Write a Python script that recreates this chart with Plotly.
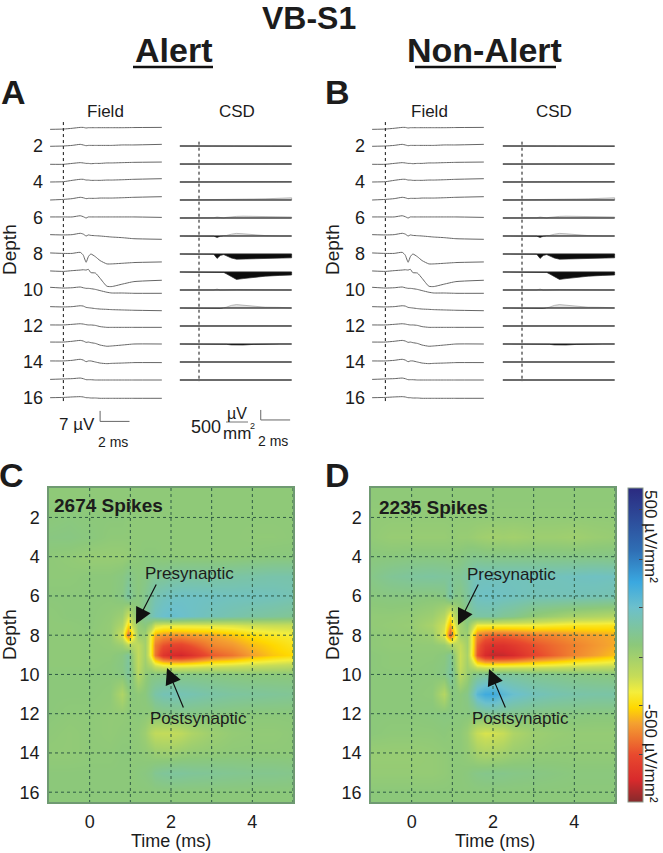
import plotly.graph_objects as go

W, H = 663, 853

# ---------- data ----------
depth_ticks = [2, 4, 6, 8, 10, 12, 14, 16]
time_ticks = [0, 2, 4]
grid_times = [0, 1, 2, 3, 4, 5]

field_depths = list(range(1, 17))
field_t_ms = [-0.9, 0, 0.6, 1.15, 1.35, 1.55, 1.7, 1.87, 2.18, 2.5, 2.96, 3.3, 4, 4.8, 6.7]
field_uv = [
    [-.9, -.7, -.2, .4, .4, 0, .2, .2, .2, .2, .2, .2, .2, .3, .4],
    [-.2, 0, .4, 1.1, .7, .2, .4, .4, .4, .4, .4, .4, .7, .7, 1.1],
    [-.2, -.2, .4, .9, .7, .4, .4, .2, .4, .4, .7, .7, .9, 1.1, 1.3],
    [0, .2, 1.1, 1.8, 1.8, 1.3, 1.3, 1.1, 1.1, 1.1, 1.3, 1.3, 1.5, 1.8, 2.2],
    [0, .4, .9, 1.8, 1.5, .9, 1.1, 1.1, 1.1, 1.3, 1.3, 1.3, 1.5, 1.8, 2.2],
    [.7, .7, .7, 1.5, .9, 0, .7, .7, .7, .7, .7, .7, .7, .7, .4],
    [.9, .7, .9, 1.8, 1.3, 0, .7, .4, .2, 0, -.4, -.7, -1.1, -1.8, -2.2],
    [.7, .4, .4, 1.1, -.7, -5.5, -1.8, 0, -1.8, -4.4, -6.6, -6.6, -6.2, -5.7, -5.3],
    [.7, .4, .9, 1.3, 1.5, 1.3, 1.8, -.4, -.7, -4.2, -9.5, -9.7, -8.1, -6.4, -5.5],
    [1.8, 1.3, 1.5, 2, 1.5, 1.1, 1.1, .9, .4, -.4, -1.5, -2, -2, -2.2, -2.2],
    [.9, .7, .9, 1.5, 1.3, .4, .2, 0, -.4, -.7, -.9, -1.1, -1.3, -1.5, -1.8],
    [.7, .7, 1.1, 1.5, 1.3, .9, .7, .7, .4, -.4, -.9, -.9, -.9, -.9, -.9],
    [1.3, 1.3, 1.8, 2.4, 2, 1.1, 1.3, .9, .4, -.7, -1.5, -1.3, -.7, 0, 0],
    [.7, .7, 1.1, 1.8, 1.3, .2, .7, .7, 0, -.7, -1.1, -.9, -.7, -.4, -.4],
    [.4, .7, .9, 1.3, .9, .2, .2, .2, 0, 0, 0, 0, 0, 0, 0],
    [.2, .4, .7, .9, .7, .2, .2, 0, 0, -.2, -.2, -.2, -.2, -.2, -.2],
]

csd_depths = list(range(2, 16))
csd_t_ms = [-1.3, 0, 1.0, 1.23, 1.45, 1.68, 1.86, 2.2, 2.55, 3, 3.7, 4.5, 5.5, 6.3]
csd_uv_mm2 = [
    [0, 0, 0, 0, 0, 0, 0, 0, 0, 0, -15, -20, 0, -10],
    [-5, 0, 0, 0, 0, 0, 0, 0, 0, 0, 0, 0, 0, 0],
    [0, 0, 10, 5, 10, 10, 15, 20, 25, 25, 25, 25, 25, 25],
    [0, 5, 15, 15, 20, 20, 25, 30, 35, 40, 50, 60, 80, 110],
    [0, 0, 10, 50, 10, 0, 30, 60, 80, 90, 85, 65, 55, 50],
    [0, 0, -10, -70, -15, 0, 25, 90, 130, 110, 60, 20, 0, 0],
    [0, 0, -10, -220, -70, -30, -100, -200, -260, -250, -230, -210, -200, -190],
    [0, 5, 15, 20, 10, -20, -90, -250, -370, -330, -260, -210, -170, -150],
    [0, 0, 5, 45, -15, 5, 15, 25, 25, 20, 10, 5, 0, 0],
    [0, -5, -20, -45, -15, 5, 40, 130, 170, 140, 70, 40, 30, 25],
    [0, 0, 5, 5, 5, 5, 5, 5, 5, 5, 5, 5, 5, 5],
    [0, 0, 10, 15, 10, 0, -15, -45, -60, -50, -20, 0, 0, 0],
    [0, 0, 0, 0, 0, 0, 0, 0, 0, 0, 0, 0, 0, 0],
    [0, 0, 0, 0, 0, 5, 15, 20, 25, 15, 5, 0, 0, 0],
]

heat_t_ms = [-1, -.5, 0, .5, .8, .95, 1.05, 1.2, 1.35, 1.5, 1.6, 1.8, 2, 2.25, 2.5, 3, 3.5, 4, 4.5, 5]
heat_depths = [1, 2, 3, 4, 5, 6, 7, 7.5, 8, 8.5, 9, 9.5, 10, 11, 12, 13, 14, 15, 16]
heat_alert = [
    [-5] * 20,
    [0, 5, 0, 0, 0, -5, -5, -5, -5, -5, -5, -5, -5, -5, -5, -5, -5, -5, -5, -5],
    [10, 12, 5, -5, -5, -5, -5, -5, -5, -5, -5, -5, -5, -5, -5, -5, -5, -8, -8, -5],
    [-5, -10, -20, -20, -20, -15, -10, -5, 0, 0, 0, -5, -5, -5, -5, -5, -5, 0, 5, 5],
    [-5, -5, 0, 0, 10, 30, 15, 5, 15, 30, 40, 40, 50, 55, 55, 55, 60, 65, 70, 70],
    [0, 0, 0, 0, 15, 60, 25, 5, 30, 60, 80, 95, 105, 110, 110, 105, 100, 100, 95, 85],
    [-5, 0, 0, -10, -30, -110, -50, 10, 40, 75, 100, 120, 130, 120, 110, 90, 75, 60, 50, 40],
    [-5, -5, 0, -15, -60, -190, -100, -15, 5, -40, -110, -130, -130, -130, -130, -125, -120, -105, -100, -100],
    [-5, -5, -5, -15, -110, -300, -190, -30, -30, -160, -240, -260, -265, -265, -255, -245, -220, -190, -170, -155],
    [-5, -5, -5, -10, -30, -80, -70, -90, -40, -170, -290, -340, -360, -365, -340, -280, -260, -225, -200, -175],
    [-5, -5, -5, -5, 10, 45, -20, -95, -40, -170, -300, -400, -430, -440, -410, -330, -300, -250, -215, -195],
    [-5, -5, -5, 0, 15, 50, -10, -90, -30, -70, -120, -150, -160, -160, -155, -135, -125, -110, -100, -90],
    [0, 0, 0, 0, 10, 45, 5, -75, -15, 10, 10, 15, 15, 15, 15, 10, 5, 0, 0, 0],
    [0, 0, 0, -5, -60, -15, 5, -5, 5, 40, 65, 85, 90, 85, 80, 65, 55, 50, 45, 40],
    [0, -5, -5, -10, -10, -5, -5, 0, -5, -10, 5, 10, 15, 20, 15, 10, 5, 0, 0, 0],
    [-5, -10, -5, -10, -5, -5, -5, -10, -30, -70, -90, -95, -95, -85, -60, -30, -15, -10, -10, -5],
    [-10, -10, -5, -5, 0, 0, -5, -5, -10, -15, -25, -30, -30, -20, -15, -10, -5, -5, -5, -5],
    [0, 0, 0, 0, 0, 0, 0, 5, 10, 20, 35, 45, 50, 50, 45, 40, 35, 30, 30, 25],
    [0] * 20,
]
heat_nonalert = [
    [-5] * 20,
    [-10] * 20,
    [-10, -20, -20, -20, -20, -15, -15, -20, -20, -25, -30, -35, -40, -35, -40, -30, -30, -35, -25, -20],
    [5, 5, 10, 10, 10, 5, 5, 10, 20, 25, 25, 20, 20, 20, 20, 20, 20, 20, 20, 20],
    [20, 40, 50, 55, 50, 50, 40, 40, 60, 85, 95, 95, 95, 95, 95, 95, 95, 100, 105, 100],
    [5, 10, 10, 5, 15, 70, 25, 15, 50, 90, 105, 110, 110, 105, 100, 90, 90, 90, 85, 80],
    [-10, -10, -15, -30, -70, -170, -90, -20, 20, 50, 60, 60, 60, 40, 30, -10, -30, -50, -60, -70],
    [-10, -15, -20, -50, -110, -240, -140, -40, 0, -90, -150, -150, -150, -150, -150, -150, -160, -170, -170, -175],
    [-5, -10, -15, -30, -130, -340, -210, -40, -30, -190, -280, -310, -320, -320, -310, -290, -280, -260, -250, -240],
    [-5, -10, -10, -10, -20, -60, -70, -95, -40, -190, -320, -390, -410, -410, -390, -340, -310, -285, -260, -240],
    [0, -5, -5, -5, 5, 35, -15, -105, -50, -200, -340, -430, -450, -445, -430, -360, -320, -280, -250, -220],
    [0, -5, -5, 0, 10, 45, -5, -100, -40, -100, -150, -170, -170, -170, -165, -155, -145, -130, -120, -110],
    [0, 0, 0, 0, 15, 55, 15, -80, -30, 15, 30, 40, 50, 50, 45, 30, 25, 15, 10, 5],
    [0, 0, 0, -5, -70, -5, 10, 0, 20, 90, 150, 190, 195, 150, 125, 95, 80, 70, 65, 65],
    [0, 0, 0, 5, 10, 10, 5, 5, 5, 5, 15, 30, 35, 30, 25, 15, 10, 10, 5, 5],
    [0, -5, -5, -5, 0, -5, -5, -5, -25, -70, -100, -120, -115, -100, -60, -30, -20, -15, -15, -15],
    [-20, -20, -20, -15, -10, -5, -5, -5, -15, -30, -45, -55, -50, -40, -25, -15, -10, -10, -10, -10],
    [-15, -15, -15, -15, -10, -5, 0, 0, 5, 15, 20, 25, 25, 25, 20, 15, 10, 5, 5, 5],
    [0] * 20,
]
colorbar_ticks = [430, 273, 120, -40, -194, -350]

# ---------- styling ----------
FONT = "Liberation Sans"
INK = "#1c1c1c"
colorscale = [
    [0.00, "#862a2c"], [0.07, "#d82a2c"], [0.15, "#e8492e"], [0.25, "#f4a030"], [0.30, "#ffd800"],
    [0.35, "#f4ee3c"], [0.40, "#c6dc58"], [0.50, "#8cc87a"], [0.62, "#6cc0cc"], [0.70, "#3aa8e0"],
    [0.80, "#2f6fb5"], [1.00, "#2b2a80"],
]
PX_MS = 14.7
PX_DEPTH = 18.0
UV_TO_DEPTH = 1.5 / PX_DEPTH        # 7 uV spans about 10.5 px
CSD_TO_DEPTH = (10 / 500) / PX_DEPTH  # 500 uV/mm2 spans 10 px


def dom_x(a, b):
    return [a / W, b / W]


def dom_y(a, b):
    return [1 - b / H, 1 - a / H]


fig = go.Figure()
annotations, shapes = [], []


def text(s, x, y, size, bold=False, angle=0, anchor="center", color=INK):
    annotations.append(dict(
        text=f"<b>{s}</b>" if bold else s, x=x / W, y=1 - y / H, xref="paper", yref="paper",
        xanchor=anchor, yanchor="middle", showarrow=False, textangle=angle,
        font=dict(family=FONT, size=size, color=color)))


def arrow(tail, tip):
    annotations.append(dict(
        text="", x=tip[0] / W, y=1 - tip[1] / H, xref="paper", yref="paper",
        ax=tail[0] - tip[0], ay=tail[1] - tip[1], axref="pixel", ayref="pixel",
        showarrow=True, arrowhead=2, arrowsize=2.7, arrowwidth=1.2, arrowcolor="#111111"))


def trace_axes(idx, left, right, t_left, show_depth):
    t_right = t_left + (right - left) / PX_MS
    d_top = (100 - 110) / PX_DEPTH
    d_bot = (452 - 110) / PX_DEPTH
    fig.update_layout({
        f"xaxis{idx}": dict(domain=dom_x(left, right), range=[t_left, t_right], visible=False,
                            anchor=f"y{idx}"),
        f"yaxis{idx}": dict(domain=dom_y(100, 452), range=[d_bot, d_top], anchor=f"x{idx}",
                            showgrid=False, zeroline=False, showline=False, ticks="",
                            tickvals=depth_ticks if show_depth else [], showticklabels=show_depth,
                            ticklabelstandoff=2,
                            tickfont=dict(family=FONT, size=18, color=INK)),
    })


def add_field(idx, scale_bar):
    ax = dict(xaxis=f"x{idx}", yaxis=f"y{idx}")
    for d, vals in zip(field_depths, field_uv):
        fig.add_trace(go.Scatter(x=field_t_ms, y=[d - v * UV_TO_DEPTH for v in vals], mode="lines",
                                 line=dict(color="#666666", width=1, shape="spline", smoothing=0.5),
                                 showlegend=False, hoverinfo="skip", **ax))
    fig.add_trace(go.Scatter(x=[0, 0], y=[0.67, 16.2], mode="lines", showlegend=False, hoverinfo="skip",
                             line=dict(color="#111111", width=1, dash="dot"), **ax))
    if scale_bar:
        x0, y0 = 2.5, 17.3
        fig.add_trace(go.Scatter(x=[x0, x0, x0 + 2], y=[y0 - 7 * UV_TO_DEPTH, y0, y0], mode="lines",
                                 line=dict(color="#666666", width=1), showlegend=False, hoverinfo="skip", **ax))


def add_csd(idx, scale_bar):
    ax = dict(xaxis=f"x{idx}", yaxis=f"y{idx}")
    n = len(csd_t_ms)
    back = csd_t_ms[::-1]
    for d, vals in zip(csd_depths, csd_uv_mm2):
        up = [d - max(v, 0) * CSD_TO_DEPTH for v in vals]
        down = [d - min(v, 0) * CSD_TO_DEPTH for v in vals]
        fig.add_trace(go.Scatter(x=csd_t_ms + back, y=up + [d] * n, mode="lines", fill="toself",
                                 fillcolor="#e2e2e2", line=dict(color="#909090", width=0.6),
                                 showlegend=False, hoverinfo="skip", **ax))
        fig.add_trace(go.Scatter(x=csd_t_ms + back, y=down + [d] * n, mode="lines", fill="toself",
                                 fillcolor="#0c0c0c", line=dict(color="#2a2a2a", width=0.7),
                                 showlegend=False, hoverinfo="skip", **ax))
    fig.add_trace(go.Scatter(x=[0, 0], y=[1.76, 15.1], mode="lines", showlegend=False, hoverinfo="skip",
                             line=dict(color="#111111", width=1, dash="dot"), **ax))
    if scale_bar:
        x0, y0 = 4.2, 17.22
        fig.add_trace(go.Scatter(x=[x0, x0, x0 + 2], y=[y0 - 500 * CSD_TO_DEPTH, y0, y0], mode="lines",
                                 line=dict(color="#666666", width=1), showlegend=False, hoverinfo="skip", **ax))


def add_heat(idx, z, left, right, top=488, bottom=802):
    fig.add_trace(go.Heatmap(x=heat_t_ms, y=heat_depths, z=z, coloraxis="coloraxis", zsmooth="best",
                             hoverinfo="skip", xaxis=f"x{idx}", yaxis=f"y{idx}"))
    border = "#6f9a72"
    fig.update_layout({
        f"xaxis{idx}": dict(domain=dom_x(left, right), range=[-1, 5], anchor=f"y{idx}", tickvals=time_ticks,
                            showgrid=False, zeroline=False, ticks="", showline=True, linecolor=border,
                            linewidth=1.5, mirror=True, ticklabelstandoff=3,
                            tickfont=dict(family=FONT, size=18, color=INK)),
        f"yaxis{idx}": dict(domain=dom_y(top, bottom), range=[16.5, 0.5], anchor=f"x{idx}", tickvals=depth_ticks,
                            showgrid=False, zeroline=False, ticks="", showline=True, linecolor=border,
                            linewidth=1.5, mirror=True, ticklabelstandoff=4,
                            tickfont=dict(family=FONT, size=18, color=INK)),
    })
    grid = dict(color="#2f5a45", width=1, dash="dot")
    for t in grid_times:
        shapes.append(dict(type="line", xref=f"x{idx}", yref=f"y{idx}", x0=t, x1=t, y0=0.5, y1=16.5,
                           line=grid, layer="above"))
    for d in depth_ticks:
        shapes.append(dict(type="line", xref=f"x{idx}", yref=f"y{idx}", x0=-1, x1=5, y0=d, y1=d,
                           line=grid, layer="above"))


# ---------- panels ----------
trace_axes(1, 46, 170, -1.18, True)
trace_axes(2, 175, 300, (175 - 199) / PX_MS, False)
trace_axes(3, 368, 492, -1.18, True)
trace_axes(4, 497, 622, (497 - 522) / PX_MS, False)
add_field(1, True)
add_csd(2, True)
add_field(3, False)
add_csd(4, False)
add_heat(5, heat_alert, 49, 293)
add_heat(6, heat_nonalert, 371, 615)

# ---------- text ----------
text("VB-S1", 309, 18, 32, True)
text("Alert", 173, 50, 34, True)
text("Non-Alert", 485, 50, 34, True)
for x0, x1 in [(133, 213), (415, 556)]:
    shapes.append(dict(type="line", xref="paper", yref="paper", x0=x0 / W, x1=x1 / W,
                       y0=1 - 67 / H, y1=1 - 67 / H, line=dict(color="#111111", width=2.5)))
for s, x, y in [("A", 13, 92), ("B", 337, 92), ("C", 11, 475), ("D", 337, 475)]:
    text(s, x, y, 34, True)
for x_field, x_csd in [(106, 237), (429, 554)]:
    text("Field", x_field, 111, 17)
    text("CSD", x_csd, 111, 17)
for x in (9, 332):
    text("Depth", x, 250, 19, angle=-90)
    text("Depth", x, 635, 19, angle=-90)

text("7 µV", 77, 424, 17)
text("2 ms", 113, 442, 14)
text("500", 206, 427, 18)
text("µV", 237, 413, 16)
text("mm", 237, 433, 17)
text("2", 253, 426, 9)
text("2 ms", 273, 441, 14)
shapes.append(dict(type="line", xref="paper", yref="paper", x0=226 / W, x1=248 / W,
                   y0=1 - 422 / H, y1=1 - 422 / H, line=dict(color="#777777", width=1)))

text("2674 Spikes", 52, 505, 19, True, anchor="left")
text("2235 Spikes", 377, 507, 19, True, anchor="left")
text("Presynaptic", 189, 573, 17)
text("Postsynaptic", 198, 718, 17)
text("Presynaptic", 511, 574, 17)
text("Postsynaptic", 520, 718, 17)
arrow((157, 583), (136, 624))
arrow((184, 709), (167, 668))
arrow((479, 583), (458, 625))
arrow((506, 709), (489, 669))
text("Time (ms)", 171, 841, 18)
text("Time (ms)", 495, 841, 18)
text("500 µV/mm²", 651, 536, 17, angle=90)
text("-500 µV/mm²", 651, 753, 17, angle=90)

fig.update_layout(
    width=W, height=H, margin=dict(l=0, r=0, t=0, b=0),
    autosize=False,
    paper_bgcolor="white", plot_bgcolor="white", showlegend=False,
    annotations=annotations, shapes=shapes,
    coloraxis=dict(
        colorscale=colorscale, cmin=-500, cmax=500,
        colorbar=dict(x=628 / W, xanchor="left", xpad=0, y=1 - 488 / H, yanchor="top", ypad=0,
                      len=314, lenmode="pixels", thickness=15, thicknessmode="pixels",
                      tickvals=colorbar_ticks, ticks="inside", ticklen=4, tickcolor="#444444",
                      showticklabels=False, outlinecolor="#8a9a8a", outlinewidth=1),
    ),
)
fig.write_html("out.html", config={"displayModeBar": False},
               post_script="document.body.style.margin='0';document.body.style.overflow='hidden';")
